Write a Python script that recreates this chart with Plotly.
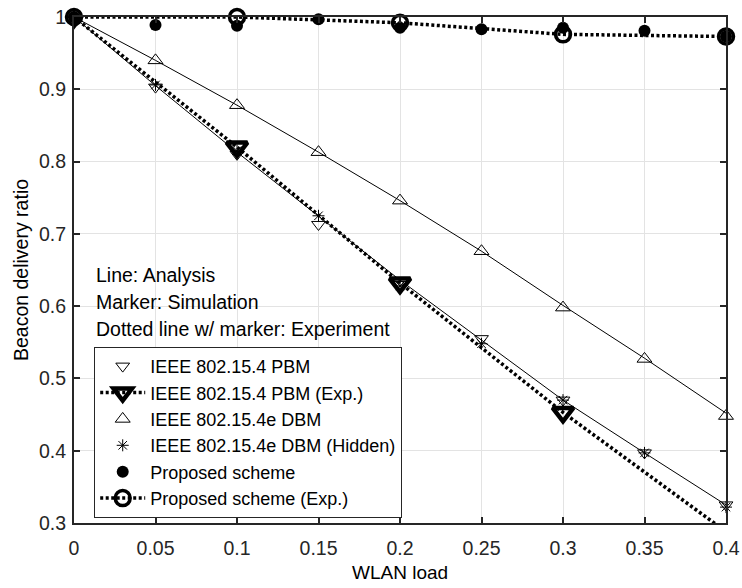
import plotly.graph_objects as go

# ---- data ----
wlan_load = [0, 0.05, 0.1, 0.15, 0.2, 0.25, 0.3, 0.35, 0.4]
exp_load = [0, 0.1, 0.2, 0.3, 0.4]

pbm_analysis = [1.0, 0.905, 0.813, 0.724, 0.636, 0.553, 0.47, 0.397, 0.325]
dbm_analysis = [1.0, 0.94, 0.878, 0.813, 0.746, 0.676, 0.601, 0.528, 0.452]

pbm_sim = [1.0, 0.903, 0.81, 0.713, 0.63, 0.555, 0.47, 0.397, 0.325]
pbm_exp = [1.0, 0.82, 0.632, 0.453, 0.288]
dbm_sim = [1.0, 0.94, 0.878, 0.813, 0.746, 0.676, 0.598, 0.527, 0.448]
dbm_hidden_sim = [1.0, 0.906, 0.815, 0.725, 0.628, 0.548, 0.47, 0.397, 0.322]
proposed_sim = [1.0, 0.989, 0.988, 0.997, 0.985, 0.983, 0.985, 0.981, 0.973]
proposed_exp = [1.0, 1.0, 0.992, 0.976, 0.973]

x_tickvals = [0, 0.05, 0.1, 0.15, 0.2, 0.25, 0.3, 0.35, 0.4]
x_ticktext = ["0", "0.05", "0.1", "0.15", "0.2", "0.25", "0.3", "0.35", "0.4"]
y_tickvals = [0.3, 0.4, 0.5, 0.6, 0.7, 0.8, 0.9, 1.0]
y_ticktext = ["0.3", "0.4", "0.5", "0.6", "0.7", "0.8", "0.9", "1"]

x_title = "WLAN load"
y_title = "Beacon delivery ratio"
notes = ["Line: Analysis", "Marker: Simulation", "Dotted line w/ marker: Experiment"]

FONT = "Liberation Sans, Arial, sans-serif"
DARK = "#262626"

fig = go.Figure()

# analysis lines (not in legend)
fig.add_trace(go.Scatter(x=wlan_load, y=pbm_analysis, mode="lines",
                         line=dict(color="black", width=1), showlegend=False, hoverinfo="skip"))
fig.add_trace(go.Scatter(x=wlan_load, y=dbm_analysis, mode="lines",
                         line=dict(color="black", width=1), showlegend=False, hoverinfo="skip"))

fig.add_trace(go.Scatter(
    x=wlan_load, y=pbm_sim, mode="markers", name="IEEE 802.15.4 PBM", cliponaxis=False,
    marker=dict(symbol="triangle-down-open", size=12, color="black", line=dict(width=1))))
fig.add_trace(go.Scatter(
    x=exp_load, y=pbm_exp, mode="lines+markers", name="IEEE 802.15.4 PBM (Exp.)",
    line=dict(color="black", width=3.5, dash="3px,2.5px"),
    marker=dict(symbol="triangle-down-open", size=18, color="black", line=dict(width=4.5))))
fig.add_trace(go.Scatter(
    x=wlan_load, y=dbm_sim, mode="markers", name="IEEE 802.15.4e DBM", cliponaxis=False,
    marker=dict(symbol="triangle-up-open", size=13, color="black", line=dict(width=1))))
fig.add_trace(go.Scatter(
    x=wlan_load, y=dbm_hidden_sim, mode="markers", name="IEEE 802.15.4e DBM (Hidden)", cliponaxis=False,
    marker=dict(symbol="asterisk-open", size=10, color="black", line=dict(width=1, color="black"))))
fig.add_trace(go.Scatter(
    x=wlan_load, y=proposed_sim, mode="markers", name="Proposed scheme", cliponaxis=False,
    marker=dict(symbol="circle", size=12, color="black")))
fig.add_trace(go.Scatter(
    x=exp_load, y=proposed_exp, mode="lines+markers", name="Proposed scheme (Exp.)", cliponaxis=False,
    line=dict(color="black", width=3.5, dash="3px,2.5px"),
    marker=dict(symbol="circle-open", size=15, color="black", line=dict(width=3.5))))

for i, t in enumerate(notes):
    fig.add_annotation(text=t, xref="paper", yref="paper", x=0.031, y=[0.490, 0.437, 0.383][i],
                       xanchor="left", yanchor="middle", showarrow=False,
                       font=dict(family=FONT, size=19.5, color="black"))

# x-axis title
fig.add_annotation(text=x_title, xref="paper", yref="paper", x=0.5, y=-0.097,
                   xanchor="center", yanchor="middle", showarrow=False,
                   font=dict(family=FONT, size=19, color="black"))

axis_common = dict(
    showline=True, linecolor=DARK, linewidth=2, mirror="ticks",
    ticks="inside", ticklen=6, tickwidth=1.5, tickcolor=DARK,
    showgrid=True, gridcolor="#e3e3e3", gridwidth=1, zeroline=False,
    tickfont=dict(family=FONT, size=19.5, color=DARK), automargin=False,
)

fig.update_layout(
    width=742, height=588,
    margin=dict(l=74, r=16, t=17, b=65),
    paper_bgcolor="white", plot_bgcolor="white",
    font=dict(family=FONT, size=19, color=DARK),
    xaxis=dict(range=[0, 0.4], tickvals=x_tickvals, ticktext=x_ticktext, ticklabelstandoff=7,
               **axis_common),
    yaxis=dict(range=[0.3, 1.0], tickvals=y_tickvals, ticktext=y_ticktext, ticklabelstandoff=2,
               title=dict(text=y_title, font=dict(family=FONT, size=19.5, color="black"), standoff=5),
               **axis_common),
    legend=dict(x=0.031, y=0.348, xanchor="left", yanchor="top",
                bgcolor="white", bordercolor=DARK, borderwidth=1,
                font=dict(family=FONT, size=18, color="black"),
                itemwidth=45, tracegroupgap=0),
    showlegend=True,
)

fig.write_html("out.html")
